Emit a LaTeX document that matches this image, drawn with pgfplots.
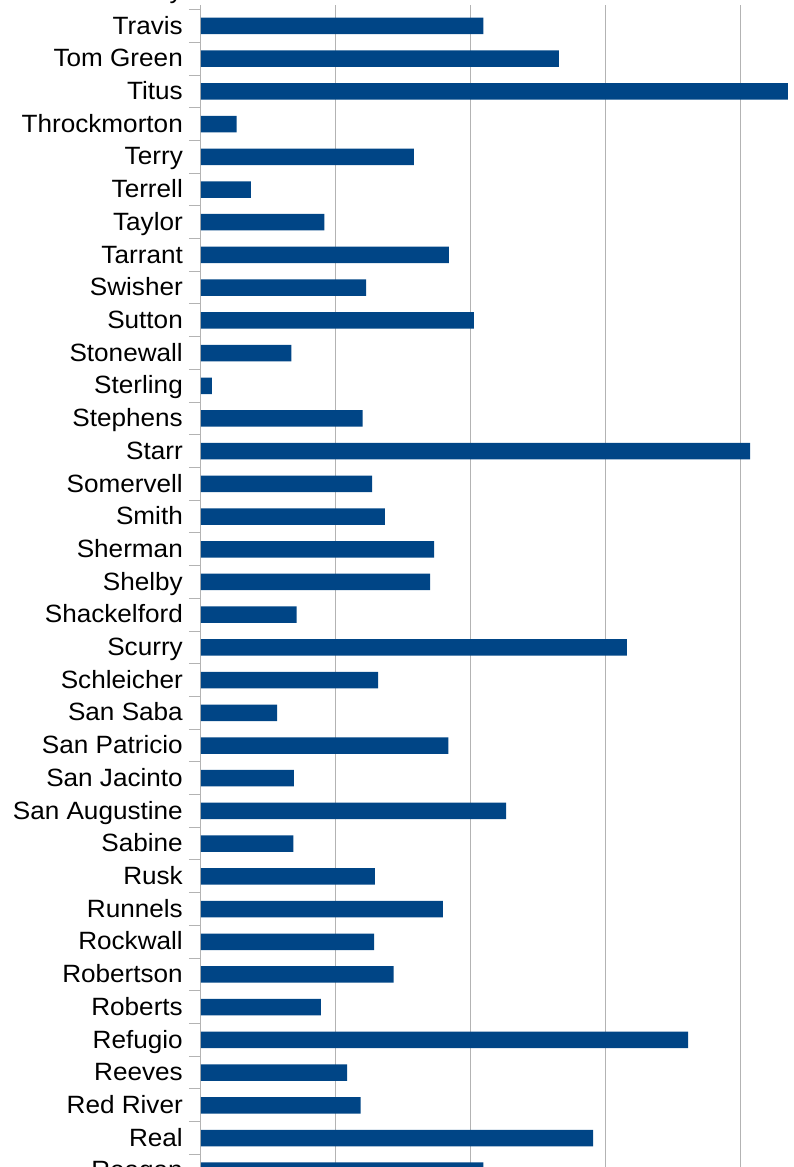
\documentclass[border=0pt]{standalone}
\usepackage{pgfplots}
\pgfplotsset{compat=1.18}
\usepackage{fontspec}
\setmainfont{Liberation Sans}[FakeStretch=1.045]
\definecolor{barblue}{HTML}{004586}
\definecolor{gridgray}{HTML}{B3B3B3}
\begin{document}
\begin{tikzpicture}
\begin{axis}[
  name=ax,
  x=6.7375pt, y=32.706pt,
  xmin=0, xmax=92,
  ymin=-0.5, ymax=35.642,
  axis y line*=left,
  axis x line*=bottom,
  x axis line style={draw=none},
  y axis line style={draw=gridgray, line width=1pt},
  xtick={20,40,60,80},
  xticklabels={},
  xmajorgrids,
  major grid style={draw=gridgray, line width=1pt},
  xtick style={draw=none},
  ytick={0,...,35},
  yticklabels={Reagan,Real,Red River,Reeves,Refugio,Roberts,Robertson,Rockwall,Runnels,Rusk,Sabine,San Augustine,San Jacinto,San Patricio,San Saba,Schleicher,Scurry,Shackelford,Shelby,Sherman,Smith,Somervell,Starr,Stephens,Sterling,Stonewall,Sutton,Swisher,Tarrant,Taylor,Terrell,Terry,Throckmorton,Titus,Tom Green,Travis},
  minor ytick={-0.5,0.5,...,35.5},
  major tick length=0pt,
  minor tick length=12pt,
  tick align=outside,
  ytick style={draw=gridgray, line width=1pt},
  minor tick style={draw=gridgray, line width=1pt},
  yticklabel style={anchor=east, inner sep=0pt, text height=17.9pt, text depth=0pt, xshift=-18pt, yshift=0.8pt, font=\fontsize{25}{26}\selectfont},
  clip=true,
]
\addplot[xbar, bar width=16.5pt, fill=barblue, draw=none] coordinates {
(41.9,0) (58.2,1) (23.7,2) (21.7,3) (72.3,4) (17.8,5) (28.6,6) (25.7,7) (35.9,8) (25.8,9)
(13.7,10) (45.3,11) (13.8,12) (36.7,13) (11.3,14) (26.3,15) (63.2,16) (14.2,17) (34.0,18) (34.6,19)
(27.3,20) (25.4,21) (81.5,22) (24.0,23) (1.6,24) (13.4,25) (40.5,26) (24.5,27) (36.8,28) (18.3,29)
(7.4,30) (31.6,31) (5.3,32) (87.1,33) (53.1,34) (41.9,35)
};
\coordinate (O) at (axis cs:0,35);
\coordinate (T) at (axis cs:0,36);
\end{axis}
\node[anchor=east, inner sep=0pt, text height=17.9pt, text depth=0pt, xshift=-18pt, yshift=3.5pt, font=\fontsize{25}{26}\selectfont] at (T) {Trinity};
\pgfresetboundingbox
\useasboundingbox ([xshift=-201pt,yshift=26pt]O) rectangle ([xshift=592pt,yshift=-1141pt]O);
\end{tikzpicture}
\end{document}
